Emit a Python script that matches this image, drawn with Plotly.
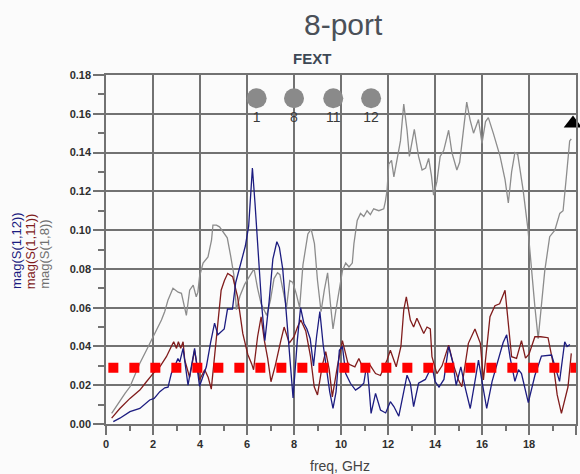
import plotly.graph_objects as go

# ---------------- data ----------------
s1_12_freq = [0.31, 0.59, 1.02, 1.44, 1.86, 2.05, 2.29, 2.5, 2.64, 2.78, 2.92, 3.06, 3.14, 3.28, 3.49, 3.63,
              3.77, 3.98, 4.27, 4.45, 4.62, 4.76, 4.9, 5.03, 5.17, 5.38, 5.52, 5.72, 5.93, 6.07, 6.23, 6.34,
              6.48, 6.62, 6.76, 6.94, 7.1, 7.27, 7.38, 7.52, 7.66, 7.79, 7.96, 8.14, 8.28, 8.42, 8.55, 8.69,
              8.83, 8.96, 9.1, 9.24, 9.38, 9.52, 9.66, 9.79, 9.93, 10.06, 10.2, 10.4, 10.62, 10.8, 10.97,
              11.1, 11.2, 11.28, 11.47, 11.68, 11.9, 12.1, 12.25, 12.46, 12.67, 12.81, 12.95, 13.09, 13.3,
              13.59, 13.87, 14.0, 14.17, 14.38, 14.58, 14.75, 14.9, 15.1, 15.3, 15.5, 15.7, 15.85, 16.0,
              16.2, 16.43, 16.7, 16.9, 17.05, 17.2, 17.4, 17.55, 17.68, 17.97, 18.25, 18.53, 18.96, 19.1,
              19.3, 19.52, 19.62, 19.74]
s1_12_mag = [0.0012, 0.003, 0.0064, 0.008, 0.0124, 0.0132, 0.0167, 0.0187, 0.019, 0.026, 0.0295, 0.0338,
             0.032, 0.039, 0.020, 0.030, 0.039, 0.0195, 0.0295, 0.042, 0.052, 0.046, 0.0474, 0.049, 0.0593,
             0.0593, 0.073, 0.0815, 0.0918, 0.102, 0.132, 0.114, 0.085, 0.062, 0.043, 0.063, 0.085, 0.094,
             0.091, 0.080, 0.059, 0.037, 0.0135, 0.043, 0.060, 0.052, 0.049, 0.044, 0.030, 0.045, 0.058,
             0.041, 0.028, 0.0166, 0.008, 0.0166, 0.038, 0.040, 0.026, 0.021, 0.0175, 0.019, 0.021, 0.031,
             0.018, 0.0055, 0.0158, 0.0072, 0.0057, 0.0115, 0.009, 0.004, 0.0167, 0.0252, 0.021, 0.009,
             0.021, 0.023, 0.030, 0.022, 0.019, 0.023, 0.040, 0.032, 0.020, 0.0295, 0.018, 0.008, 0.022,
             0.033, 0.022, 0.008, 0.022, 0.033, 0.042, 0.046, 0.034, 0.022, 0.028, 0.026, 0.011, 0.025,
             0.035, 0.0356, 0.030, 0.022, 0.0424, 0.040, 0.041]

s1_11_freq = [0.24, 0.59, 1.02, 1.44, 1.72, 2.0, 2.29, 2.57, 2.78, 2.88, 3.0, 3.08, 3.18, 3.28, 3.35, 3.56,
              3.77, 3.98, 4.2, 4.35, 4.48, 4.62, 4.76, 4.9, 5.04, 5.18, 5.39, 5.6, 5.82, 6.03, 6.2, 6.28,
              6.45, 6.6, 6.74, 6.88, 7.02, 7.2, 7.44, 7.58, 7.8, 8.0, 8.15, 8.29, 8.5, 8.7, 8.86, 9.0, 9.2,
              9.35, 9.5, 9.63, 9.85, 10.06, 10.3, 10.59, 10.76, 10.97, 11.2, 11.47, 11.68, 11.96, 12.1,
              12.35, 12.55, 12.67, 12.78, 12.95, 13.09, 13.23, 13.52, 13.66, 13.8, 13.87, 14.08, 14.3,
              14.58, 14.8, 15.0, 15.14, 15.42, 15.7, 15.93, 16.06, 16.34, 16.55, 16.75, 16.98, 17.26,
              17.47, 17.68, 17.85, 18.0, 18.25, 18.5, 18.81, 19.03, 19.2, 19.38, 19.66, 19.8]
s1_11_mag = [0.003, 0.008, 0.0132, 0.0175, 0.0218, 0.026, 0.0295, 0.0347, 0.040, 0.0424, 0.039, 0.0424,
             0.039, 0.0424, 0.033, 0.024, 0.038, 0.0227, 0.028, 0.024, 0.018, 0.035, 0.0536, 0.069, 0.074,
             0.0777, 0.076, 0.0656, 0.0467, 0.036, 0.031, 0.028, 0.045, 0.0553, 0.043, 0.0338, 0.0218,
             0.030, 0.043, 0.050, 0.0417, 0.045, 0.050, 0.0536, 0.048, 0.035, 0.0192, 0.015, 0.030, 0.0373,
             0.028, 0.014, 0.030, 0.043, 0.031, 0.0295, 0.0338, 0.028, 0.031, 0.026, 0.025, 0.033, 0.038,
             0.0295, 0.040, 0.0588, 0.0656, 0.0536, 0.050, 0.0545, 0.0467, 0.050, 0.049, 0.0347, 0.026,
             0.030, 0.0407, 0.030, 0.0227, 0.0192, 0.0416, 0.049, 0.0416, 0.0227, 0.0553, 0.061, 0.062,
             0.069, 0.0347, 0.0338, 0.043, 0.034, 0.036, 0.045, 0.045, 0.0445, 0.031, 0.015, 0.0055,
             0.0192, 0.0364]

s1_8_freq = [0.24, 0.52, 0.81, 1.02, 1.23, 1.44, 1.72, 2.08, 2.36, 2.5, 2.64, 2.85, 3.07, 3.21, 3.35, 3.42,
             3.56, 3.71, 3.84, 3.91, 3.98, 4.13, 4.34, 4.49, 4.55, 4.7, 4.83, 4.97, 5.16, 5.3, 5.44, 5.55,
             5.7, 5.9, 6.1, 6.3, 6.45, 6.6, 6.84, 7.0, 7.15, 7.3, 7.4, 7.54, 7.68, 7.82, 7.95, 8.1, 8.24,
             8.38, 8.59, 8.73, 8.87, 9.0, 9.15, 9.29, 9.43, 9.55, 9.66, 9.8, 9.92, 10.06, 10.2, 10.34,
             10.48, 10.55, 10.69, 10.83, 10.97, 11.11, 11.25, 11.39, 11.61, 11.82, 11.89, 11.96, 12.03,
             12.15, 12.25, 12.39, 12.53, 12.67, 12.81, 12.91, 13.0, 13.12, 13.3, 13.45, 13.6, 13.73,
             13.85, 13.94, 14.08, 14.22, 14.37, 14.58, 14.72, 14.93, 15.05, 15.2, 15.35, 15.49, 15.64,
             15.85, 16.0, 16.15, 16.27, 16.48, 16.77, 16.98, 17.12, 17.26, 17.4, 17.52, 17.75, 17.96,
             18.1, 18.25, 18.39, 18.53, 18.67, 18.88, 19.1, 19.31, 19.45, 19.59, 19.73, 19.8]
s1_8_mag = [0.0055, 0.0107, 0.0158, 0.0192, 0.0253, 0.0313, 0.038, 0.0467, 0.0536, 0.058, 0.064, 0.070,
            0.068, 0.0674, 0.0588, 0.056, 0.069, 0.0716, 0.0656, 0.068, 0.076, 0.083, 0.0862, 0.0948,
            0.1026, 0.1026, 0.1017, 0.099, 0.096, 0.087, 0.077, 0.059, 0.066, 0.072, 0.076, 0.080, 0.070,
            0.062, 0.056, 0.064, 0.075, 0.078, 0.077, 0.069, 0.060, 0.074, 0.073, 0.067, 0.060, 0.082,
            0.098, 0.1005, 0.093, 0.074, 0.058, 0.069, 0.078, 0.062, 0.049, 0.060, 0.069, 0.079, 0.083,
            0.081, 0.083, 0.093, 0.105, 0.1086, 0.107, 0.110, 0.108, 0.111, 0.110, 0.111, 0.115, 0.1206,
            0.134, 0.136, 0.1275, 0.136, 0.146, 0.165, 0.1515, 0.138, 0.145, 0.152, 0.138, 0.131, 0.132,
            0.137, 0.128, 0.118, 0.125, 0.138, 0.141, 0.1515, 0.140, 0.131, 0.135, 0.150, 0.166, 0.157,
            0.150, 0.157, 0.1447, 0.156, 0.158, 0.150, 0.138, 0.126, 0.114, 0.130, 0.140, 0.139, 0.1206,
            0.100, 0.079, 0.0605, 0.044, 0.062, 0.079, 0.0966, 0.100, 0.1086, 0.110, 0.1275, 0.146, 0.147]

limit_freq = [0.1, 20.0]
limit_mag = [0.029, 0.029]

marker_freq = [6.41, 8.0, 9.67, 11.28]
marker_mag = [0.168, 0.168, 0.168, 0.168]
marker_labels = ["1", "8", "11", "12"]

end_freq = [19.87]
end_mag = [0.155]

series_names = ["mag(S(1,12))", "mag(S(1,11))", "mag(S(1,8))"]
x_ticks = [0, 2, 4, 6, 8, 10, 12, 14, 16, 18, 20]

# ---------------- styles ----------------
NAVY = "#1c1c80"
DRED = "#801c1c"
GREY = "#8c8c8c"
GRID = "#727272"
TXT = "#2e2e2e"

W, H = 580, 474
L, R, T, B = 106, 2, 75, 50
PW, PH = W - L - R, H - T - B


def px2paper(px, py):
    return (px - L) / PW, (H - B - py) / PH


fig = go.Figure()
fig.add_trace(go.Scatter(x=s1_8_freq, y=s1_8_mag, mode="lines", line=dict(color=GREY, width=1.3),
                         name=series_names[2]))
fig.add_trace(go.Scatter(x=s1_11_freq, y=s1_11_mag, mode="lines", line=dict(color=DRED, width=1.3),
                         name=series_names[1]))
fig.add_trace(go.Scatter(x=s1_12_freq, y=s1_12_mag, mode="lines", line=dict(color=NAVY, width=1.3),
                         name=series_names[0]))
fig.add_trace(go.Scatter(x=limit_freq, y=limit_mag, mode="lines",
                         line=dict(color="#ff0000", width=10, dash="10px,11px")))
fig.add_trace(go.Scatter(x=marker_freq, y=marker_mag, mode="markers+text", text=marker_labels,
                         textposition="bottom center", cliponaxis=False,
                         marker=dict(color="#8a8a8a", size=20),
                         textfont=dict(family="Liberation Sans", size=14, color="#3a3a3a")))
fig.add_trace(go.Scatter(x=end_freq, y=end_mag, mode="markers", cliponaxis=False,
                         marker=dict(symbol="triangle-up", angle=0.37, size=16, color="black")))

annos = []
x0, y0 = px2paper(345, 24)
annos.append(dict(text="8-port", x=x0, y=y0, xref="paper", yref="paper", showarrow=False,
                  xanchor="center", yanchor="middle",
                  font=dict(family="Liberation Sans", size=30, color="#4a5058")))
x0, y0 = px2paper(313, 58)
annos.append(dict(text="FEXT", x=x0, y=y0, xref="paper", yref="paper", showarrow=False,
                  xanchor="center", yanchor="middle",
                  font=dict(family="Liberation Sans", size=15, color="#3d4855", weight="bold")))
x0, y0 = px2paper(341, 466)
annos.append(dict(text="freq, GHz", x=x0, y=y0, xref="paper", yref="paper", showarrow=False,
                  xanchor="center", yanchor="middle",
                  font=dict(family="Liberation Sans", size=14, color="#444444")))
for name, col, cx in zip(series_names, [NAVY, DRED, "#707070"], [16, 30, 44]):
    xa, ya = px2paper(cx, 291)
    annos.append(dict(text=name, x=xa, y=ya, xref="paper", yref="paper", showarrow=False,
                      textangle=-90, xanchor="center", yanchor="bottom",
                      font=dict(family="Liberation Sans", size=13, color=col)))

axis_common = dict(showgrid=True, gridcolor=GRID, gridwidth=1.5, showline=True, linecolor=GRID,
                   linewidth=1.5, mirror=True, zeroline=False, ticks="outside", tickcolor=GRID,
                   tickwidth=1.5, tickfont=dict(family="Liberation Sans", size=11, color=TXT, weight="bold"))

fig.update_xaxes(range=[0, 20], tickvals=x_ticks, ticklen=9,
                 minor=dict(dtick=1, ticklen=5, ticks="outside", tickcolor=GRID, showgrid=False),
                 **axis_common)
fig.update_yaxes(range=[0, 0.18], dtick=0.02, tickformat=".2f", ticklen=11,
                 minor=dict(dtick=0.01, ticklen=6, ticks="outside", tickcolor=GRID, showgrid=False),
                 **axis_common)

fig.update_layout(width=W, height=H, margin=dict(l=L, r=R, t=T, b=B),
                  paper_bgcolor="#fbfbfb", plot_bgcolor="#fbfbfb", showlegend=False,
                  annotations=annos)

fig.write_html("out.html")
